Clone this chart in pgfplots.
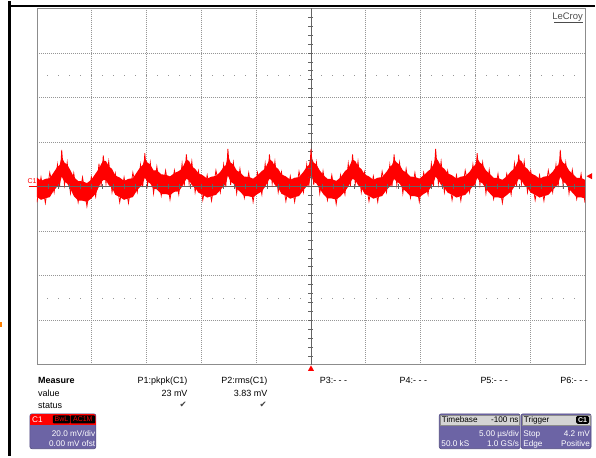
\documentclass[border=0pt]{standalone}
\usepackage{pgfplots}
\pgfplotsset{compat=1.18}
\usepackage{pgfplotstable}
\usepgfplotslibrary{fillbetween}
\usepackage{fontspec}
\setmainfont{Liberation Sans}
\newfontfamily\dejavu{DejaVu Sans}

\definecolor{boxpurple}{RGB}{108,100,165}
\definecolor{boxedge}{RGB}{80,74,128}
\definecolor{headgray}{RGB}{212,212,212}
\definecolor{gridgray}{RGB}{150,150,150}
\definecolor{framegray}{RGB}{140,140,140}
\definecolor{axisgray}{RGB}{100,100,100}

% C1 trace: t in us, hi/lo = edges of the noise band, zz = noise spikes (mV)
\pgfplotstableread{
t hi lo zz
-25.00 4.1 -4.6 -7.0
-24.63 2.6 -5.9 4.2
-24.23 3.5 -5.2 -7.3
-23.83 3.8 -4.7 6.3
-23.43 6.7 -1.5 -2.5
-23.13 8.9 0.1 9.8
-22.93 9.7 1.2 -0.2
-22.74 13.3 4.5 16.5
-22.49 10.8 2.2 0.8
-22.24 9.9 1.4 10.8
-21.94 7.3 -1.0 -3.0
-21.64 4.4 -4.2 6.0
-21.24 2.5 -6.3 -7.0
-20.84 2.4 -6.3 4.2
-20.44 1.6 -6.8 -8.8
-20.04 3.1 -5.3 4.3
-19.64 6.0 -3.1 -4.5
-19.34 8.1 0.0 10.3
-19.14 10.2 1.9 0.3
-18.95 11.7 3.0 14.0
-18.70 11.5 2.9 1.3
-18.45 9.1 0.7 11.3
-18.15 8.0 -0.5 -2.5
-17.85 5.0 -3.7 6.0
-17.45 4.1 -4.6 -7.0
-17.05 2.6 -5.9 4.2
-16.65 3.5 -5.2 -7.3
-16.25 3.8 -4.7 6.3
-15.85 6.7 -1.5 -2.5
-15.55 8.9 0.1 9.8
-15.35 9.7 1.2 -0.2
-15.16 12.8 4.0 15.0
-14.91 10.8 2.2 0.8
-14.66 9.9 1.4 10.8
-14.36 7.3 -1.0 -3.0
-14.06 7.4 -1.2 9.0
-13.66 5.5 -3.3 -4.0
-13.26 5.4 -3.3 7.2
-12.86 4.6 -3.8 -5.8
-12.46 6.1 -2.3 7.3
-12.06 7.0 -2.1 -3.5
-11.76 8.1 0.0 10.3
-11.56 10.2 1.9 0.3
-11.37 12.2 3.5 14.5
-11.12 11.5 2.9 1.3
-10.87 9.1 0.7 11.3
-10.57 8.0 -0.5 -2.5
-10.27 6.0 -2.7 7.0
-9.87 5.1 -3.6 -6.0
-9.47 3.6 -4.9 5.2
-9.07 4.5 -4.2 -6.3
-8.67 4.8 -3.7 7.3
-8.27 6.7 -1.5 -2.5
-7.97 8.9 0.1 9.8
-7.77 9.7 1.2 -0.2
-7.58 13.8 5.0 17.0
-7.33 10.8 2.2 0.8
-7.08 9.9 1.4 10.8
-6.78 7.3 -1.0 -3.0
-6.48 6.4 -2.2 8.0
-6.08 4.5 -4.3 -5.0
-5.68 4.4 -4.3 6.2
-5.28 3.6 -4.8 -6.8
-4.88 5.1 -3.3 6.3
-4.48 7.0 -2.1 -3.5
-4.18 8.1 0.0 10.3
-3.98 10.2 1.9 0.3
-3.79 12.2 3.5 14.5
-3.54 11.5 2.9 1.3
-3.29 9.1 0.7 11.3
-2.99 8.0 -0.5 -2.5
-2.69 5.5 -3.2 6.5
-2.29 4.6 -4.1 -6.5
-1.89 3.1 -5.4 4.7
-1.49 4.0 -4.7 -6.8
-1.09 4.3 -4.2 6.8
-0.69 6.7 -1.5 -2.5
-0.39 8.9 0.1 9.8
-0.19 9.7 1.2 -0.2
0.00 13.8 5.0 17.0
0.25 10.8 2.2 0.8
0.50 9.9 1.4 10.8
0.80 7.3 -1.0 -3.0
1.10 5.4 -3.2 7.0
1.50 3.5 -5.3 -6.0
1.90 3.4 -5.3 5.2
2.30 2.6 -5.8 -7.8
2.70 4.1 -4.3 5.3
3.10 7.0 -2.1 -3.5
3.40 8.1 0.0 10.3
3.60 10.2 1.9 0.3
3.79 12.2 3.5 14.5
4.04 11.5 2.9 1.3
4.29 9.1 0.7 11.3
4.59 8.0 -0.5 -2.5
4.89 5.5 -3.2 6.5
5.29 4.6 -4.1 -6.5
5.69 3.1 -5.4 4.7
6.09 4.0 -4.7 -6.8
6.49 4.3 -4.2 6.8
6.89 6.7 -1.5 -2.5
7.19 8.9 0.1 9.8
7.39 9.7 1.2 -0.2
7.58 12.3 3.5 14.5
7.83 10.8 2.2 0.8
8.08 9.9 1.4 10.8
8.38 7.3 -1.0 -3.0
8.68 6.4 -2.2 8.0
9.08 4.5 -4.3 -5.0
9.48 4.4 -4.3 6.2
9.88 3.6 -4.8 -6.8
10.28 5.1 -3.3 6.3
10.68 7.0 -2.1 -3.5
10.98 8.1 0.0 10.3
11.18 10.2 1.9 0.3
11.37 13.2 4.5 17.0
11.62 11.5 2.9 1.3
11.87 9.1 0.7 11.3
12.17 8.0 -0.5 -2.5
12.47 6.0 -2.7 7.0
12.87 5.1 -3.6 -6.0
13.27 3.6 -4.9 5.2
13.67 4.5 -4.2 -6.3
14.07 4.8 -3.7 7.3
14.47 6.7 -1.5 -2.5
14.77 8.9 0.1 9.8
14.97 9.7 1.2 -0.2
15.16 12.8 4.0 15.0
15.41 10.8 2.2 0.8
15.66 9.9 1.4 10.8
15.96 7.3 -1.0 -3.0
16.26 5.9 -2.7 7.5
16.66 4.0 -4.8 -5.5
17.06 3.9 -4.8 5.7
17.46 3.1 -5.3 -7.3
17.86 4.6 -3.8 5.8
18.26 7.0 -2.1 -3.5
18.56 8.1 0.0 10.3
18.76 10.2 1.9 0.3
18.95 12.2 3.5 14.5
19.20 11.5 2.9 1.3
19.45 9.1 0.7 11.3
19.75 8.0 -0.5 -2.5
20.05 6.0 -2.7 7.0
20.45 5.1 -3.6 -6.0
20.85 3.6 -4.9 5.2
21.25 4.5 -4.2 -6.3
21.65 4.8 -3.7 7.3
22.05 6.7 -1.5 -2.5
22.35 8.9 0.1 9.8
22.55 9.7 1.2 -0.2
22.74 13.3 4.5 16.5
22.99 10.8 2.2 0.8
23.24 9.9 1.4 10.8
23.54 7.3 -1.0 -3.0
23.84 5.9 -2.7 7.5
24.24 4.0 -4.8 -5.5
24.64 3.9 -4.8 5.7
25.00 3.1 -5.3 -7.3
}\sig

\begin{document}
\begin{tikzpicture}[x=1bp,y=1bp,
  lbl/.style={inner sep=0pt, font=\fontsize{9bp}{10bp}\selectfont},
  box/.style={inner sep=0pt, font=\fontsize{8.2bp}{9bp}\selectfont}]
\path (0,0) rectangle (596,455);

% vertical centre line with division ticks (under the trace)
\draw[axisgray, line width=0.8bp] (311.5,91) -- (311.5,448);
\foreach \j in {1,...,39} \draw[axisgray, line width=0.8bp] (309,91+\j*8.925) -- (314,91+\j*8.925);

\begin{axis}[
  at={(37bp,91bp)}, anchor=south west,
  width=549bp, height=357bp, scale only axis,
  xmin=-25, xmax=25, ymin=-80, ymax=80,
  xtick={-20,-15,-10,-5,5,10,15,20},
  ytick={-60,-40,-20,20,40,60},
  xticklabels={}, yticklabels={},
  major tick length=0pt,
  grid=major,
  major grid style={gridgray, line width=0.6bp, dash pattern=on 1bp off 1bp},
  axis line style={framegray, line width=0.8bp},
]
\addplot[draw=none, name path=hi] table[x=t, y=hi] {\sig};
\addplot[draw=none, name path=lo] table[x=t, y=lo] {\sig};
\addplot[red, on layer=main] fill between[of=hi and lo];
\addplot[red, line width=0.8bp] table[x=t, y=zz] {\sig};
\end{axis}

% horizontal centre line with ticks (over the trace)
\draw[axisgray, line width=0.8bp] (37,269.5) -- (586,269.5);
\foreach \i in {1,...,49} \draw[axisgray, line width=0.8bp] (37+\i*10.98,267) -- (37+\i*10.98,272);

% sparse dotted rows
\foreach \i in {1,...,49} {
  \fill[gridgray] (36.5+\i*10.98,380.6) rectangle ++(1,1);
  \fill[gridgray] (36.5+\i*10.98,157.4) rectangle ++(1,1);
}

% screen frame
\draw[black, line width=3bp] (10,0) -- (10,455);
\draw[black, line width=2bp] (8.5,450) -- (596,450);
\fill[orange] (0,129) rectangle (2,134);

% markers
\node[anchor=base west, inner sep=0pt, text=red, font=\fontsize{7bp}{8bp}\selectfont] at (27.5,272.5) {C1};
\draw[red, line width=1bp] (29,269.5) -- (37,269.5);
\fill[red] (587.5,280) -- (593,283) -- (593,277) -- cycle;
\fill[red] (311.5,90.5) -- (308.5,85) -- (314.5,85) -- cycle;

\node[anchor=base east, inner sep=0pt, text=black!70, font=\fontsize{9.5bp}{10bp}\selectfont] at (584,437) {LeCroy};
\draw[black!70, line width=0.6bp] (555,434.6) -- (584,434.6);

% measure table
\node[lbl, anchor=base west, font=\fontsize{9bp}{10bp}\selectfont\bfseries] at (38,72) {Measure};
\node[lbl, anchor=base west] at (38,59) {value};
\node[lbl, anchor=base west] at (38,47) {status};
\node[lbl, anchor=base east] at (188,72) {P1:pkpk(C1)};
\node[lbl, anchor=base east] at (188,59) {23 mV};
\node[lbl, anchor=base east] at (268,72) {P2:rms(C1)};
\node[lbl, anchor=base east] at (268,59) {3.83 mV};
\node[inner sep=0pt, text=black!75, font=\dejavu\fontsize{8.5bp}{9bp}\selectfont] at (183.5,50.5) {✔};
\node[inner sep=0pt, text=black!75, font=\dejavu\fontsize{8.5bp}{9bp}\selectfont] at (263.5,50.5) {✔};
\node[lbl, anchor=base east] at (348,72) {P3:- - -};
\node[lbl, anchor=base east] at (428,72) {P4:- - -};
\node[lbl, anchor=base east] at (509,72) {P5:- - -};
\node[lbl, anchor=base east] at (589,72) {P6:- - -};

% channel box
\fill[boxpurple, draw=boxedge, line width=0.6bp, rounded corners=2bp] (30,7) rectangle (96,42);
\fill[red, rounded corners=2bp] (30.3,31) rectangle (95.7,41.7);
\fill[red] (30.3,31) rectangle (95.7,35);
\node[box, anchor=base west, text=white] at (32,33) {C1};
\fill[black, rounded corners=1bp] (53,32.3) rectangle (70,40.5);
\node[box, text=red, font=\fontsize{7bp}{8bp}\selectfont] at (61.5,36.4) {BwL};
\fill[black, rounded corners=1bp] (70.8,32.3) rectangle (95.2,40.5);
\node[box, text=red, font=\fontsize{7bp}{8bp}\selectfont] at (83,36.4) {AC1M};
\node[box, anchor=base east, text=white] at (95.5,19) {20.0 mV/div};
\node[box, anchor=base east, text=white] at (95.5,9) {0.00 mV ofst};

% timebase box
\fill[boxpurple, draw=boxedge, line width=0.6bp, rounded corners=2bp] (440,7) rectangle (521,42);
\fill[headgray, draw=black!45, line width=0.4bp] (441.2,30.8) rectangle (519.8,41);
\node[box, anchor=base west] at (442.5,33) {Timebase};
\node[box, anchor=base east] at (519.5,33) {-100 ns};
\node[box, anchor=base east, text=white] at (520,19) {5.00 µs/div};
\node[box, anchor=base west, text=white] at (442,9) {50.0 kS};
\node[box, anchor=base east, text=white] at (520,9) {1.0 GS/s};

% trigger box
\fill[boxpurple, draw=boxedge, line width=0.6bp, rounded corners=2bp] (522,7) rectangle (592,42);
\fill[headgray, draw=black!45, line width=0.4bp] (523.2,30.8) rectangle (590.8,41);
\node[box, anchor=base west] at (524.5,33) {Trigger};
\fill[black, rounded corners=1.5bp] (577,32) rectangle (590,40);
\node[box, text=white, font=\fontsize{7bp}{8bp}\selectfont\bfseries] at (583.5,36) {C1};
\node[box, anchor=base west, text=white] at (524,19) {Stop};
\node[box, anchor=base east, text=white] at (591,19) {4.2 mV};
\node[box, anchor=base west, text=white] at (524,9) {Edge};
\node[box, anchor=base east, text=white] at (591,9) {Positive};
\end{tikzpicture}
\end{document}
